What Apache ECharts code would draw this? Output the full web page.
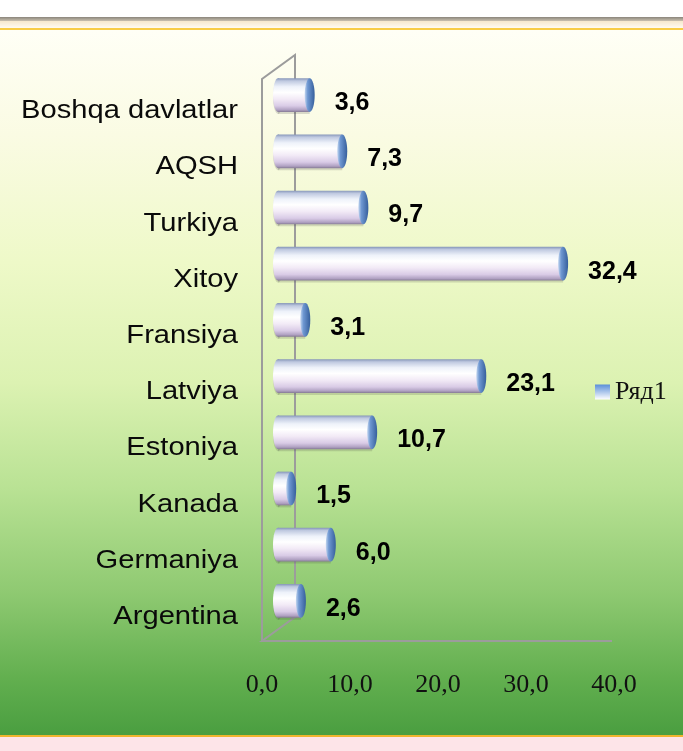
<!DOCTYPE html>
<html>
<head>
<meta charset="utf-8">
<script src="https://cdn.jsdelivr.net/npm/echarts@6/dist/echarts.min.js"></script>
<style>
html,body{margin:0;padding:0;background:#fff;}
#chart{width:683px;height:751px;}
</style>
</head>
<body>
<div id="chart"></div>
<script>
// ---- data ----
const categories = ['Argentina','Germaniya','Kanada','Estoniya','Latviya','Fransiya','Xitoy','Turkiya','AQSH','Boshqa davlatlar'];
const values = [2.6, 6.0, 1.5, 10.7, 23.1, 3.1, 32.4, 9.7, 7.3, 3.6];
const xTickValues = [0, 10, 20, 30, 40];
const xTickLabels = ['0,0', '10,0', '20,0', '30,0', '40,0'];
const seriesName = 'Ряд1';

// ---- style constants ----
const DEPTH_X = 33, DEPTH_Y = -24;
const BAR_SHIFT_X = 11, BAR_SHIFT_Y = -12;
const CAP_RX = 5;
const LABEL_GAP = 20;

const chart = echarts.init(document.getElementById('chart'), null, {renderer: 'canvas'});

const bodyGrad = new echarts.graphic.LinearGradient(0, 0, 0, 1, [
  {offset: 0, color: '#8595b8'},
  {offset: 0.08, color: '#bfc9e0'},
  {offset: 0.25, color: '#eef2fa'},
  {offset: 0.42, color: '#ffffff'},
  {offset: 0.62, color: '#f2eaf6'},
  {offset: 0.82, color: '#d9cbe6'},
  {offset: 0.94, color: '#b0a1c2'},
  {offset: 1, color: '#857a94'}
]);
const capGrad = new echarts.graphic.LinearGradient(0, 0, 1, 0, [
  {offset: 0, color: '#c4d7f0'},
  {offset: 0.3, color: '#6f98d2'},
  {offset: 1, color: '#365f9c'}
]);

function renderBar(params, api) {
  const v = api.value(0);
  const ci = api.value(1);
  const p0 = api.coord([0, ci]);
  const p1 = api.coord([v, ci]);
  const band = api.size([0, 1])[1];
  const h = band * 0.6;
  const cy = p0[1] + BAR_SHIFT_Y;
  const x0 = p0[0] + BAR_SHIFT_X + CAP_RX;
  const x1 = p1[0] + BAR_SHIFT_X + CAP_RX;
  const ry = h / 2;
  const labelX = params.coordSys.x - 24;
  return {
    type: 'group',
    children: [
      {type: 'ellipse', shape: {cx: x0, cy: cy + 2, rx: CAP_RX, ry: ry},
        style: {fill: 'rgba(60,60,60,0.18)'}},
      {type: 'rect', shape: {x: x0, y: cy - ry + 2, width: x1 - x0, height: h},
        style: {fill: 'rgba(60,60,60,0.18)'}},
      {type: 'ellipse', shape: {cx: x0, cy: cy, rx: CAP_RX, ry: ry}, style: {fill: bodyGrad}},
      {type: 'rect', shape: {x: x0, y: cy - ry, width: x1 - x0, height: h}, style: {fill: bodyGrad}},
      {type: 'ellipse', shape: {cx: x1, cy: cy, rx: CAP_RX, ry: ry}, style: {fill: capGrad}},
      {type: 'text', x: x1 + CAP_RX + LABEL_GAP, y: cy + 8,
        style: {text: values[params.dataIndex].toFixed(1).replace('.', ','),
          align: 'left', verticalAlign: 'middle',
          font: 'bold 25px "Liberation Sans", Arial, sans-serif', fill: '#000'}},
      {type: 'text', x: labelX, y: p0[1] + 4, scaleX: 1.12,
        style: {text: categories[ci], align: 'right', verticalAlign: 'middle',
          font: '26px "Liberation Sans", Arial, sans-serif', fill: '#0a0a0a'}}
    ]
  };
}

function renderFrame(params, api) {
  const cs = params.coordSys;
  const x = cs.x, y = cs.y, w = cs.width, h = cs.height;
  const lineStyle = {stroke: '#9c9c9c', lineWidth: 2, fill: null};
  return {
    type: 'group',
    children: [
      {type: 'polyline', shape: {points: [[x, y + h], [x, y], [x + DEPTH_X, y + DEPTH_Y], [x + DEPTH_X, y + h + DEPTH_Y], [x, y + h], [x + w - 2, y + h]]},
        style: lineStyle}
    ]
  };
}

const option = {
  animation: false,
  backgroundColor: 'transparent',
  graphic: [
    {type: 'rect', z: -10, shape: {x: 0, y: 0, width: 683, height: 751}, style: {fill: '#ffffff'}},
    {type: 'rect', z: -9, shape: {x: 0, y: 17, width: 683, height: 4},
      style: {fill: new echarts.graphic.LinearGradient(0, 0, 0, 1, [{offset: 0, color: '#8a857c'}, {offset: 1, color: '#c9c0ae'}])}},
    {type: 'rect', z: -9, shape: {x: 0, y: 21, width: 683, height: 7},
      style: {fill: new echarts.graphic.LinearGradient(0, 0, 0, 1, [{offset: 0, color: '#f6e8cc'}, {offset: 1, color: '#fffaf0'}])}},
    {type: 'rect', z: -9, shape: {x: 0, y: 28, width: 683, height: 2}, style: {fill: '#f8cc45'}},
    {type: 'rect', z: -9, shape: {x: 0, y: 30, width: 683, height: 705},
      style: {fill: new echarts.graphic.LinearGradient(0, 0, 0, 1, [
        {offset: 0, color: '#fffff6'},
        {offset: 0.15, color: '#fafbe3'},
        {offset: 0.33, color: '#eef9c8'},
        {offset: 0.5, color: '#dcf2b2'},
        {offset: 0.65, color: '#b9e294'},
        {offset: 0.8, color: '#8ec971'},
        {offset: 0.92, color: '#62af4f'},
        {offset: 1, color: '#4a9e40'}
      ])}},
    {type: 'rect', z: -9, shape: {x: 0, y: 735, width: 683, height: 2}, style: {fill: '#efb52e'}},
    {type: 'rect', z: -9, shape: {x: 0, y: 737, width: 683, height: 14}, style: {fill: '#fde4e8'}}
  ],
  grid: {left: 262, top: 79, width: 352, height: 562, containLabel: false},
  legend: {
    data: [seriesName], left: 590, top: 374, icon: 'rect', itemWidth: 15, itemHeight: 15,
    textStyle: {fontFamily: '"Liberation Serif", "Times New Roman", serif', fontSize: 26, color: '#111'}
  },
  xAxis: {
    type: 'value', min: 0, max: 40, interval: 10,
    axisLine: {show: false}, axisTick: {show: false}, splitLine: {show: false},
    axisLabel: {
      margin: 31, fontFamily: '"Liberation Serif", "Times New Roman", serif', fontSize: 26, color: '#111',
      formatter: function (val) { const i = xTickValues.indexOf(val); return i >= 0 ? xTickLabels[i] : ''; }
    }
  },
  yAxis: {
    type: 'category', data: categories,
    axisLine: {show: false}, axisTick: {show: false}, splitLine: {show: false},
    axisLabel: {show: false}
  },
  series: [
    {type: 'custom', name: '__frame', renderItem: renderFrame, data: [[0, 0]], encode: {x: 0, y: 1}, z: 1, silent: true},
    {type: 'custom', name: seriesName, renderItem: renderBar, z: 2,
      itemStyle: {color: new echarts.graphic.LinearGradient(0, 0, 0, 1, [{offset: 0, color: '#5a8fd8'}, {offset: 1, color: '#ffffff'}])},
      encode: {x: 0, y: 1},
      data: values.map(function (v, i) { return [v, i]; })}
  ]
};
chart.setOption(option);
</script>
</body>
</html>
